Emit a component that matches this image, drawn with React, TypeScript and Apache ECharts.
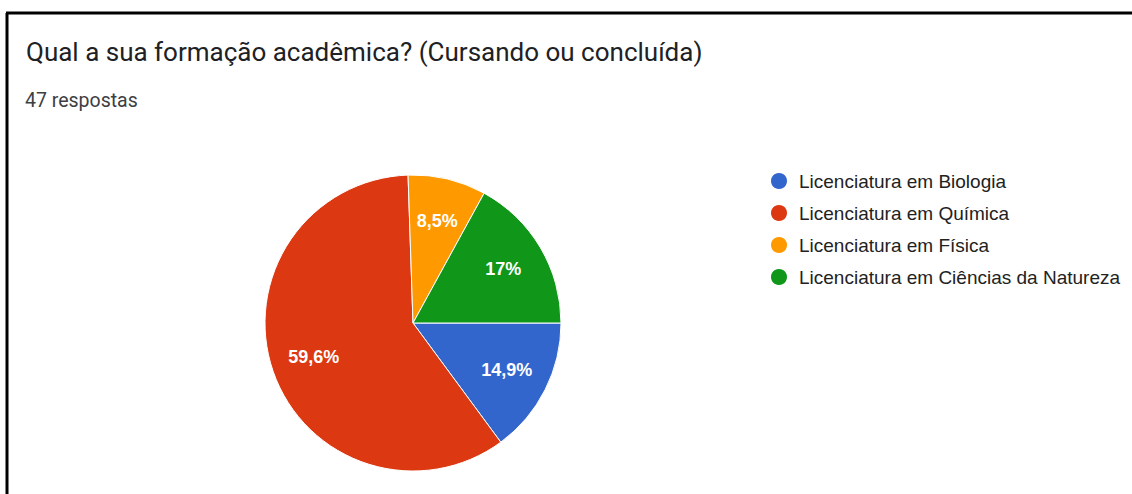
import React, { useEffect, useRef } from "react";
import * as echarts from "echarts";

const titleText = "Qual a sua formação acadêmica? (Cursando ou concluída)";
const subtitleText = "47 respostas";
const categories = [
  "Licenciatura em Biologia",
  "Licenciatura em Química",
  "Licenciatura em Física",
  "Licenciatura em Ciências da Natureza",
];
const counts = [7, 28, 4, 8];
const percentLabels = ["14,9%", "59,6%", "8,5%", "17%"];
const colors = ["#3366cc", "#dc3912", "#ff9900", "#109618"];

export default function App() {
  const ref = useRef<HTMLDivElement>(null);
  useEffect(() => {
    if (!ref.current) return;
    const chart = echarts.init(ref.current, null, { renderer: "svg" });
    const data = categories.map((name, i) => ({
      name,
      value: counts[i],
      itemStyle: { color: colors[i] },
    }));
    const labelData = categories.map((name, i) => ({
      name,
      value: counts[i],
      label: { formatter: percentLabels[i] },
    }));
    chart.setOption({
      animation: false,
      backgroundColor: "#ffffff",
      title: [
        {
          text: titleText,
          left: 21,
          top: 34,
          textStyle: {
            fontFamily: "Roboto",
            fontSize: 26,
            fontWeight: "normal",
            color: "#202124",
          },
        },
        {
          text: subtitleText,
          left: 20,
          top: 85,
          textStyle: {
            fontFamily: "Roboto",
            fontSize: 19.5,
            fontWeight: "normal",
            color: "#3c4043",
          },
        },
      ],
      legend: {
        orient: "vertical",
        left: 764,
        top: 166,
        icon: "circle",
        itemWidth: 18,
        itemHeight: 18,
        itemGap: 12,
        selectedMode: false,
        data: categories,
        textStyle: {
          fontFamily: "Liberation Sans, Arial",
          fontSize: 19,
          color: "#222222",
          padding: [0, 0, 0, 6],
        },
      },
      graphic: [
        {
          type: "line",
          shape: { x1: 7, y1: 13, x2: 7, y2: 494 },
          style: { stroke: "#000", lineWidth: 3 },
        },
        {
          type: "line",
          shape: { x1: 6, y1: 13, x2: 1132, y2: 13 },
          style: { stroke: "#000", lineWidth: 3 },
        },
      ],
      series: [
        {
          type: "pie",
          center: [413, 323],
          radius: [0, 148],
          startAngle: 0,
          clockwise: true,
          label: { show: false },
          labelLine: { show: false },
          itemStyle: { borderColor: "#ffffff", borderWidth: 1 },
          emphasis: { disabled: true },
          data,
        },
        {
          type: "pie",
          center: [413, 323],
          radius: [56, 148],
          startAngle: 0,
          clockwise: true,
          silent: true,
          itemStyle: { color: "transparent" },
          label: {
            show: true,
            position: "inside",
            color: "#ffffff",
            fontFamily: "Liberation Sans, Arial",
            fontSize: 18,
            fontWeight: "bold",
          },
          labelLine: { show: false },
          emphasis: { disabled: true },
          data: labelData,
        },
      ],
    });
    return () => chart.dispose();
  }, []);
  return (
    <div
      ref={ref}
      style={{ position: "absolute", left: 0, top: 0, width: 1132, height: 494 }}
    />
  );
}
